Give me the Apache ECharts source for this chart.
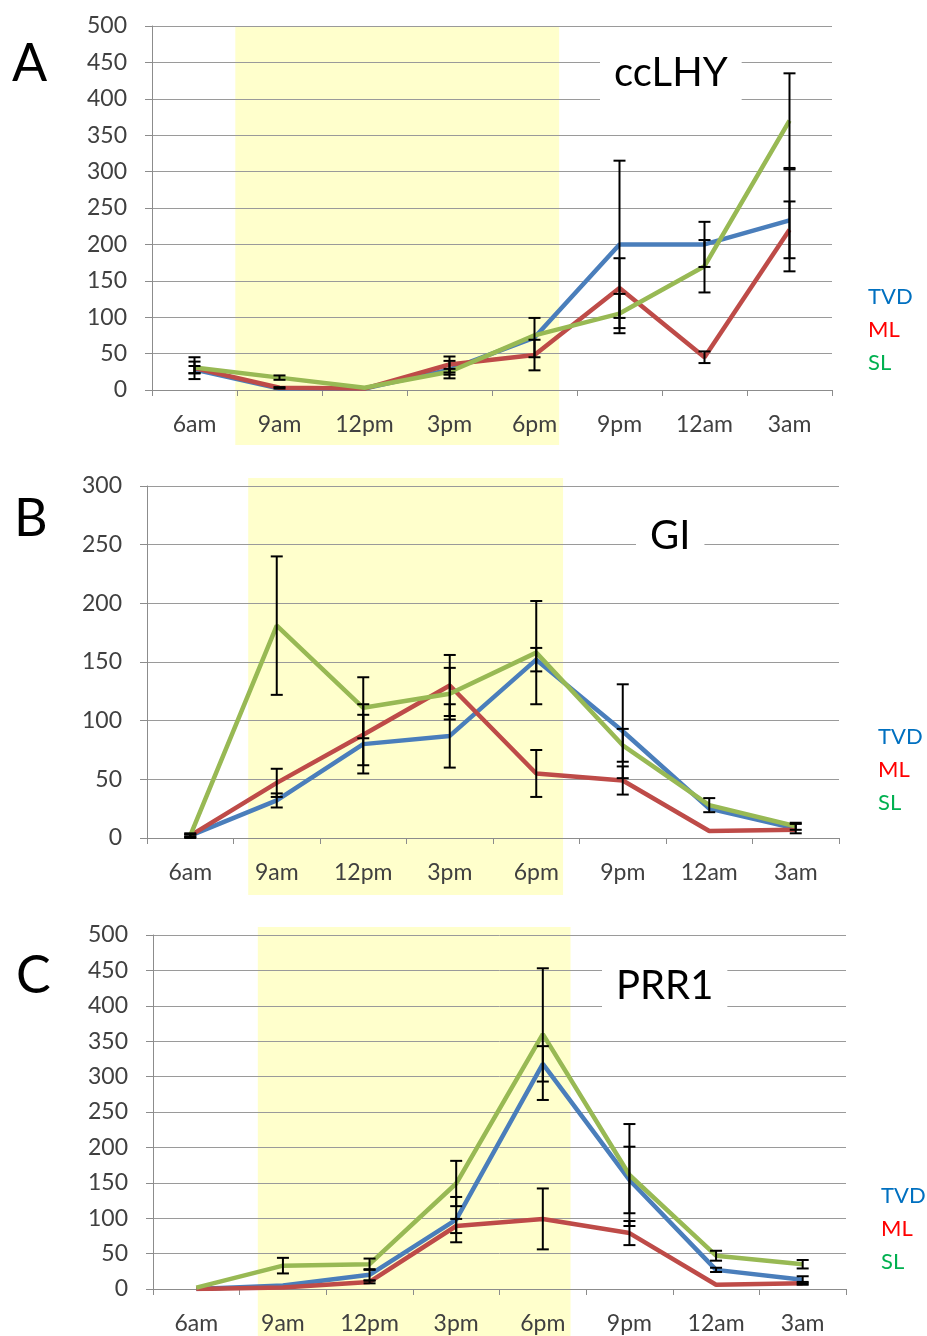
<!DOCTYPE html>
<html>
<head>
<meta charset="utf-8">
<script src="https://cdn.jsdelivr.net/npm/echarts@6/dist/echarts.min.js"></script>
<style>
  html, body { margin: 0; padding: 0; background: #fff; }
  #chart { width: 927px; height: 1336px; }
</style>
</head>
<body>
<div id="chart"></div>
<script>
// time points (categories)
const times = ['6am', '9am', '12pm', '3pm', '6pm', '9pm', '12am', '3am'];
const seriesNames = ['TVD', 'ML', 'SL'];

// A: ccLHY
const lhyTVD = [28, 2, 2, 28, 72, 200, 200, 233];
const lhyML = [30, 3, 2, 35, 48, 140, 45, 220];
const lhySL = [31, 17, 3, 25, 75, 105, 170, 370];
const lhyTVDErr = [5, 0, 0, 12, 27, 115, 31, 70];
const lhyMLErr = [15, 1, 0, 11, 21, 41, 8, 39];
const lhySLErr = [8, 3, 0, 4, 0, 27, 36, 65];

// B: GI
const giTVD = [2, 32, 80, 87, 152, 91, 25, 8];
const giML = [2, 47, 88, 130, 55, 49, 6, 7];
const giSL = [2, 181, 111, 123, 158, 79, 28, 10];
const giTVDErr = [2, 6, 25, 27, 10, 40, 0, 4];
const giMLErr = [1, 12, 26, 26, 20, 12, 0, 0];
const giSLErr = [1, 59, 26, 22, 44, 14, 6, 3];

// C: PRR1
const prrTVD = [0, 5, 20, 98, 318, 154, 27, 13];
const prrML = [0, 2, 10, 89, 99, 79, 6, 8];
const prrSL = [2, 33, 35, 149, 360, 161, 47, 35];
const prrTVDErr = [0, 0, 8, 32, 25, 47, 3, 5];
const prrMLErr = [0, 0, 2, 10, 43, 17, 0, 2];
const prrSLErr = [0, 11, 8, 32, 93, 72, 7, 6];

// light period, in category positions (0 = 6am)
const lightA = [0.48, 4.29];
const lightB = [0.67, 4.31];
const lightC = [0.71, 4.32];

const yMaxA = 500, yMaxB = 300, yMaxC = 500;

const lineColors = ['#4a7ebb', '#be4b48', '#98b954'];
const legendColors = ['#0070c0', '#ff0000', '#00b050'];
const FONT = 'Lato';

const panels = [
  { letter: 'A', title: 'ccLHY', max: yMaxA, light: lightA,
    vals: [lhyTVD, lhyML, lhySL], errs: [lhyTVDErr, lhyMLErr, lhySLErr],
    grid: { left: 152, top: 26, width: 680, height: 364 },
    bandPad: [0, 55], letterPos: [12, 38], titlePos: [600, 45], legendPos: [863, 286] },
  { letter: 'B', title: 'GI', max: yMaxB, light: lightB,
    vals: [giTVD, giML, giSL], errs: [giTVDErr, giMLErr, giSLErr],
    grid: { left: 147, top: 486, width: 692, height: 352 },
    bandPad: [8, 57], letterPos: [14, 493], titlePos: [636, 508], legendPos: [873, 726] },
  { letter: 'C', title: 'PRR1', max: yMaxC, light: lightC,
    vals: [prrTVD, prrML, prrSL], errs: [prrTVDErr, prrMLErr, prrSLErr],
    grid: { left: 153, top: 935, width: 693, height: 354 },
    bandPad: [8, 50], letterPos: [16, 950], titlePos: [602, 958], legendPos: [876, 1185] }
];

function bandRenderer(pad) {
  return function (params, api) {
    const origin = api.coord([0, 0]);
    const w = api.size([1, 0])[0];
    const xs = origin[0] + api.value(0) * w;
    const xe = origin[0] + api.value(1) * w;
    const yTop = api.coord([0, api.value(2)])[1] - pad[0];
    const yBot = origin[1] + pad[1];
    return {
      type: 'rect',
      shape: { x: xs, y: yTop, width: xe - xs, height: yBot - yTop },
      style: { fill: '#ffffcc' }
    };
  };
}

function renderErr(params, api) {
  const i = api.value(0), v = api.value(1), e = api.value(2);
  if (!e) return null;
  const hi = api.coord([i, v + e]);
  const lo = api.coord([i, Math.max(0, v - e)]);
  const cw = 6;
  const st = { stroke: '#000', lineWidth: 2 };
  return {
    type: 'group',
    children: [
      { type: 'line', shape: { x1: hi[0], y1: hi[1], x2: lo[0], y2: lo[1] }, style: st },
      { type: 'line', shape: { x1: hi[0] - cw, y1: hi[1], x2: hi[0] + cw, y2: hi[1] }, style: st },
      { type: 'line', shape: { x1: lo[0] - cw, y1: lo[1], x2: lo[0] + cw, y2: lo[1] }, style: st }
    ]
  };
}

const option = {
  animation: false,
  textStyle: { fontFamily: FONT },
  grid: [], xAxis: [], yAxis: [], series: [], title: [], legend: []
};

panels.forEach((p, k) => {
  option.grid.push(Object.assign({ containLabel: false }, p.grid));
  option.xAxis.push({
    type: 'category', gridIndex: k, data: times, boundaryGap: true,
    axisLine: { lineStyle: { color: '#8c8c8c', width: 1 } },
    axisTick: { show: true, length: 6, lineStyle: { color: '#8c8c8c' } },
    axisLabel: { fontSize: 23, color: '#404040', margin: 23, fontFamily: FONT },
    splitLine: { show: false }
  });
  option.yAxis.push({
    type: 'value', gridIndex: k, min: 0, max: p.max, interval: 50,
    axisLine: { show: true, lineStyle: { color: '#8c8c8c', width: 1 } },
    axisTick: { show: true, length: 7, lineStyle: { color: '#8c8c8c' } },
    axisLabel: { fontSize: 23, color: '#404040', margin: 25, fontFamily: FONT },
    splitLine: { show: true, lineStyle: { color: '#9a9a9a', width: 1 } }
  });
  option.series.push({
    type: 'custom', name: 'light' + k, xAxisIndex: k, yAxisIndex: k, z: -1, clip: false,
    renderItem: bandRenderer(p.bandPad),
    data: [[p.light[0], p.light[1], p.max]],
    encode: { x: [0, 1], y: 2 },
    silent: true
  });
  seriesNames.forEach((n, s) => {
    option.series.push({
      type: 'line', name: n, xAxisIndex: k, yAxisIndex: k,
      data: p.vals[s], symbol: 'none', z: 2,
      lineStyle: { color: lineColors[s], width: 4.5 },
      itemStyle: { color: lineColors[s] }
    });
  });
  const errData = [];
  seriesNames.forEach((n, s) => {
    p.vals[s].forEach((v, i) => errData.push([i, v, p.errs[s][i]]));
  });
  option.series.push({
    type: 'custom', name: 'err' + k, xAxisIndex: k, yAxisIndex: k, z: 4,
    renderItem: renderErr, data: errData, encode: { x: 0, y: 1 }, silent: true
  });
  option.title.push({
    text: p.letter, left: p.letterPos[0], top: p.letterPos[1], padding: 0,
    textStyle: { fontSize: 52, fontWeight: 'normal', color: '#000', fontFamily: FONT }
  });
  option.title.push({
    text: p.title, left: p.titlePos[0], top: p.titlePos[1], padding: [6, 14],
    backgroundColor: '#fff', z: 8,
    textStyle: { fontSize: 40, lineHeight: 44, fontWeight: 'normal', color: '#000', fontFamily: FONT }
  });
  option.legend.push({
    orient: 'vertical', left: p.legendPos[0], top: p.legendPos[1], padding: 0,
    itemWidth: 0, itemHeight: 22, itemGap: 11, icon: 'none', selectedMode: false,
    data: seriesNames.map((n, s) => ({ name: n, textStyle: { color: legendColors[s] } })),
    textStyle: { fontSize: 22, fontFamily: FONT }
  });
});

const chart = echarts.init(document.getElementById('chart'));
chart.setOption(option);
window.addEventListener('resize', () => chart.resize());
</script>
</body>
</html>
